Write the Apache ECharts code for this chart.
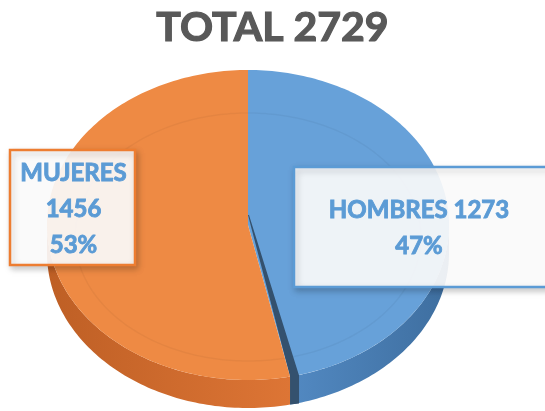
<!DOCTYPE html>
<html>
<head>
    <meta charset="utf-8">
    <script src="https://cdn.jsdelivr.net/npm/echarts@6/dist/echarts.min.js"></script>
</head>
<body style="margin: 0; background: #fff;">
<div id="myChart" style="width: 545px; height: 411px;"></div>

<script type="text/javascript">
    var categories = ['HOMBRES', 'MUJERES'];
    var values = [1273, 1456];
    var titleLabel = 'TOTAL';

    var total = values.reduce(function (a, b) { return a + b; }, 0);

    // 饼图外形（椭圆 + 厚度）
    var cx = 248, cy = 225, rx = 201, ry = 155, depth = 28;
    var topColors = ['#67A1D9', '#EE8A44'];
    var wallColors = [['#5289C2', '#3E6E9F'], ['#BE5F25', '#DD7535']];
    var borderColors = ['#5B9BD5', '#ED7D31'];
    // 标签框 [x, y, w, h]
    var boxes = [[294, 167, 258, 120], [10, 150, 125, 115]];
    var labelTpl = ['{name} {value}\n{pct}%', '{name}\n{value}\n{pct}%'];

    function pt(theta, dy) {
        return [cx + rx * Math.sin(theta), cy - ry * Math.cos(theta) + (dy || 0)];
    }

    function arc(a0, a1, dy) {
        var pts = [];
        var n = Math.max(2, Math.ceil(Math.abs(a1 - a0) / 0.02));
        for (var k = 0; k <= n; k++) {
            pts.push(pt(a0 + (a1 - a0) * k / n, dy));
        }
        return pts;
    }

    function renderItem(params, api) {
        var i = params.dataIndex;
        var start = 0;
        for (var j = 0; j < i; j++) start += values[j];
        var a0 = start / total * Math.PI * 2;
        var a1 = (start + api.value(0)) / total * Math.PI * 2;
        var children = [];

        // 侧面（只画前半圈）
        var s = Math.max(a0, Math.PI / 2), e = Math.min(a1, Math.PI * 1.5);
        if (e > s) {
            var wall = arc(s, e, 0).concat(arc(e, s, depth));
            children.push({
                type: 'polygon',
                shape: {points: wall},
                style: {
                    fill: new echarts.graphic.LinearGradient(0, 0, 1, 0, [
                        {offset: 0, color: wallColors[i][0]},
                        {offset: 1, color: wallColors[i][1]}
                    ])
                }
            });
        }

        // 顶面
        children.push({
            type: 'polygon',
            shape: {points: [[cx, cy]].concat(arc(a0, a1, 0))},
            style: {fill: topColors[i]}
        });

        // 内圈高光
        children.push({
            type: 'polyline',
            shape: {points: arc(a0, a1, 0).map(function (p) {
                return [cx + (p[0] - cx) * 0.86, cy + 12 + (p[1] - cy) * 0.8];
            })},
            style: {fill: null, stroke: 'rgba(0,0,0,0.04)', lineWidth: 1.5}
        });

        // 切面（暗色窄条）
        if (a1 > Math.PI / 2 && a1 < Math.PI) {
            var ep = pt(a1, 0);
            children.push({
                type: 'polygon',
                shape: {points: [[cx, cy - 10], [cx + 1, cy - 10], [ep[0] + 9, ep[1] - 1],
                    [ep[0] + 9, ep[1] + depth - 1], [ep[0], ep[1] + depth], ep]},
                style: {fill: '#34516E'}
            });
        }

        // 标签
        var b = boxes[i];
        var pct = Math.round(api.value(0) / total * 100);
        var txt = labelTpl[i].replace('{name}', categories[i])
            .replace('{value}', api.value(0)).replace('{pct}', pct);
        children.push({
            type: 'rect',
            z2: 50,
            shape: {x: b[0], y: b[1], width: b[2], height: b[3]},
            style: {
                fill: 'rgba(255,255,255,0.9)',
                stroke: borderColors[i],
                lineWidth: 2.5,
                shadowBlur: 6,
                shadowOffsetX: 2,
                shadowOffsetY: 3,
                shadowColor: 'rgba(0,0,0,0.22)'
            }
        });
        children.push({
            type: 'text',
            z2: 60,
            x: i === 0 ? 419 : b[0] + b[2] / 2 + 1,
            y: b[1] + b[3] / 2 + 1.5,
            style: {
                text: txt,
                fill: '#5B9BD5',
                stroke: '#5B9BD5',
                lineWidth: 0.9,
                font: 'bold 24px Lato',
                lineHeight: 36,
                align: 'center',
                verticalAlign: 'middle'
            }
        });

        return {type: 'group', children: children};
    }

    var chart = echarts.init(document.getElementById('myChart'));

    var option = {
        animation: false,
        title: {
            text: titleLabel + ' ' + total,
            left: 'center',
            top: 2,
            textStyle: {
                color: '#595959',
                fontFamily: 'Lato',
                fontWeight: 'bold',
                fontSize: 41,
                textBorderColor: '#595959',
                textBorderWidth: 1.2
            }
        },
        series: [{
            type: 'custom',
            coordinateSystem: 'none',
            renderItem: renderItem,
            data: values.map(function (v, k) {
                return {name: categories[k], value: [v]};
            })
        }]
    };

    chart.setOption(option);
</script>
</body>
</html>
